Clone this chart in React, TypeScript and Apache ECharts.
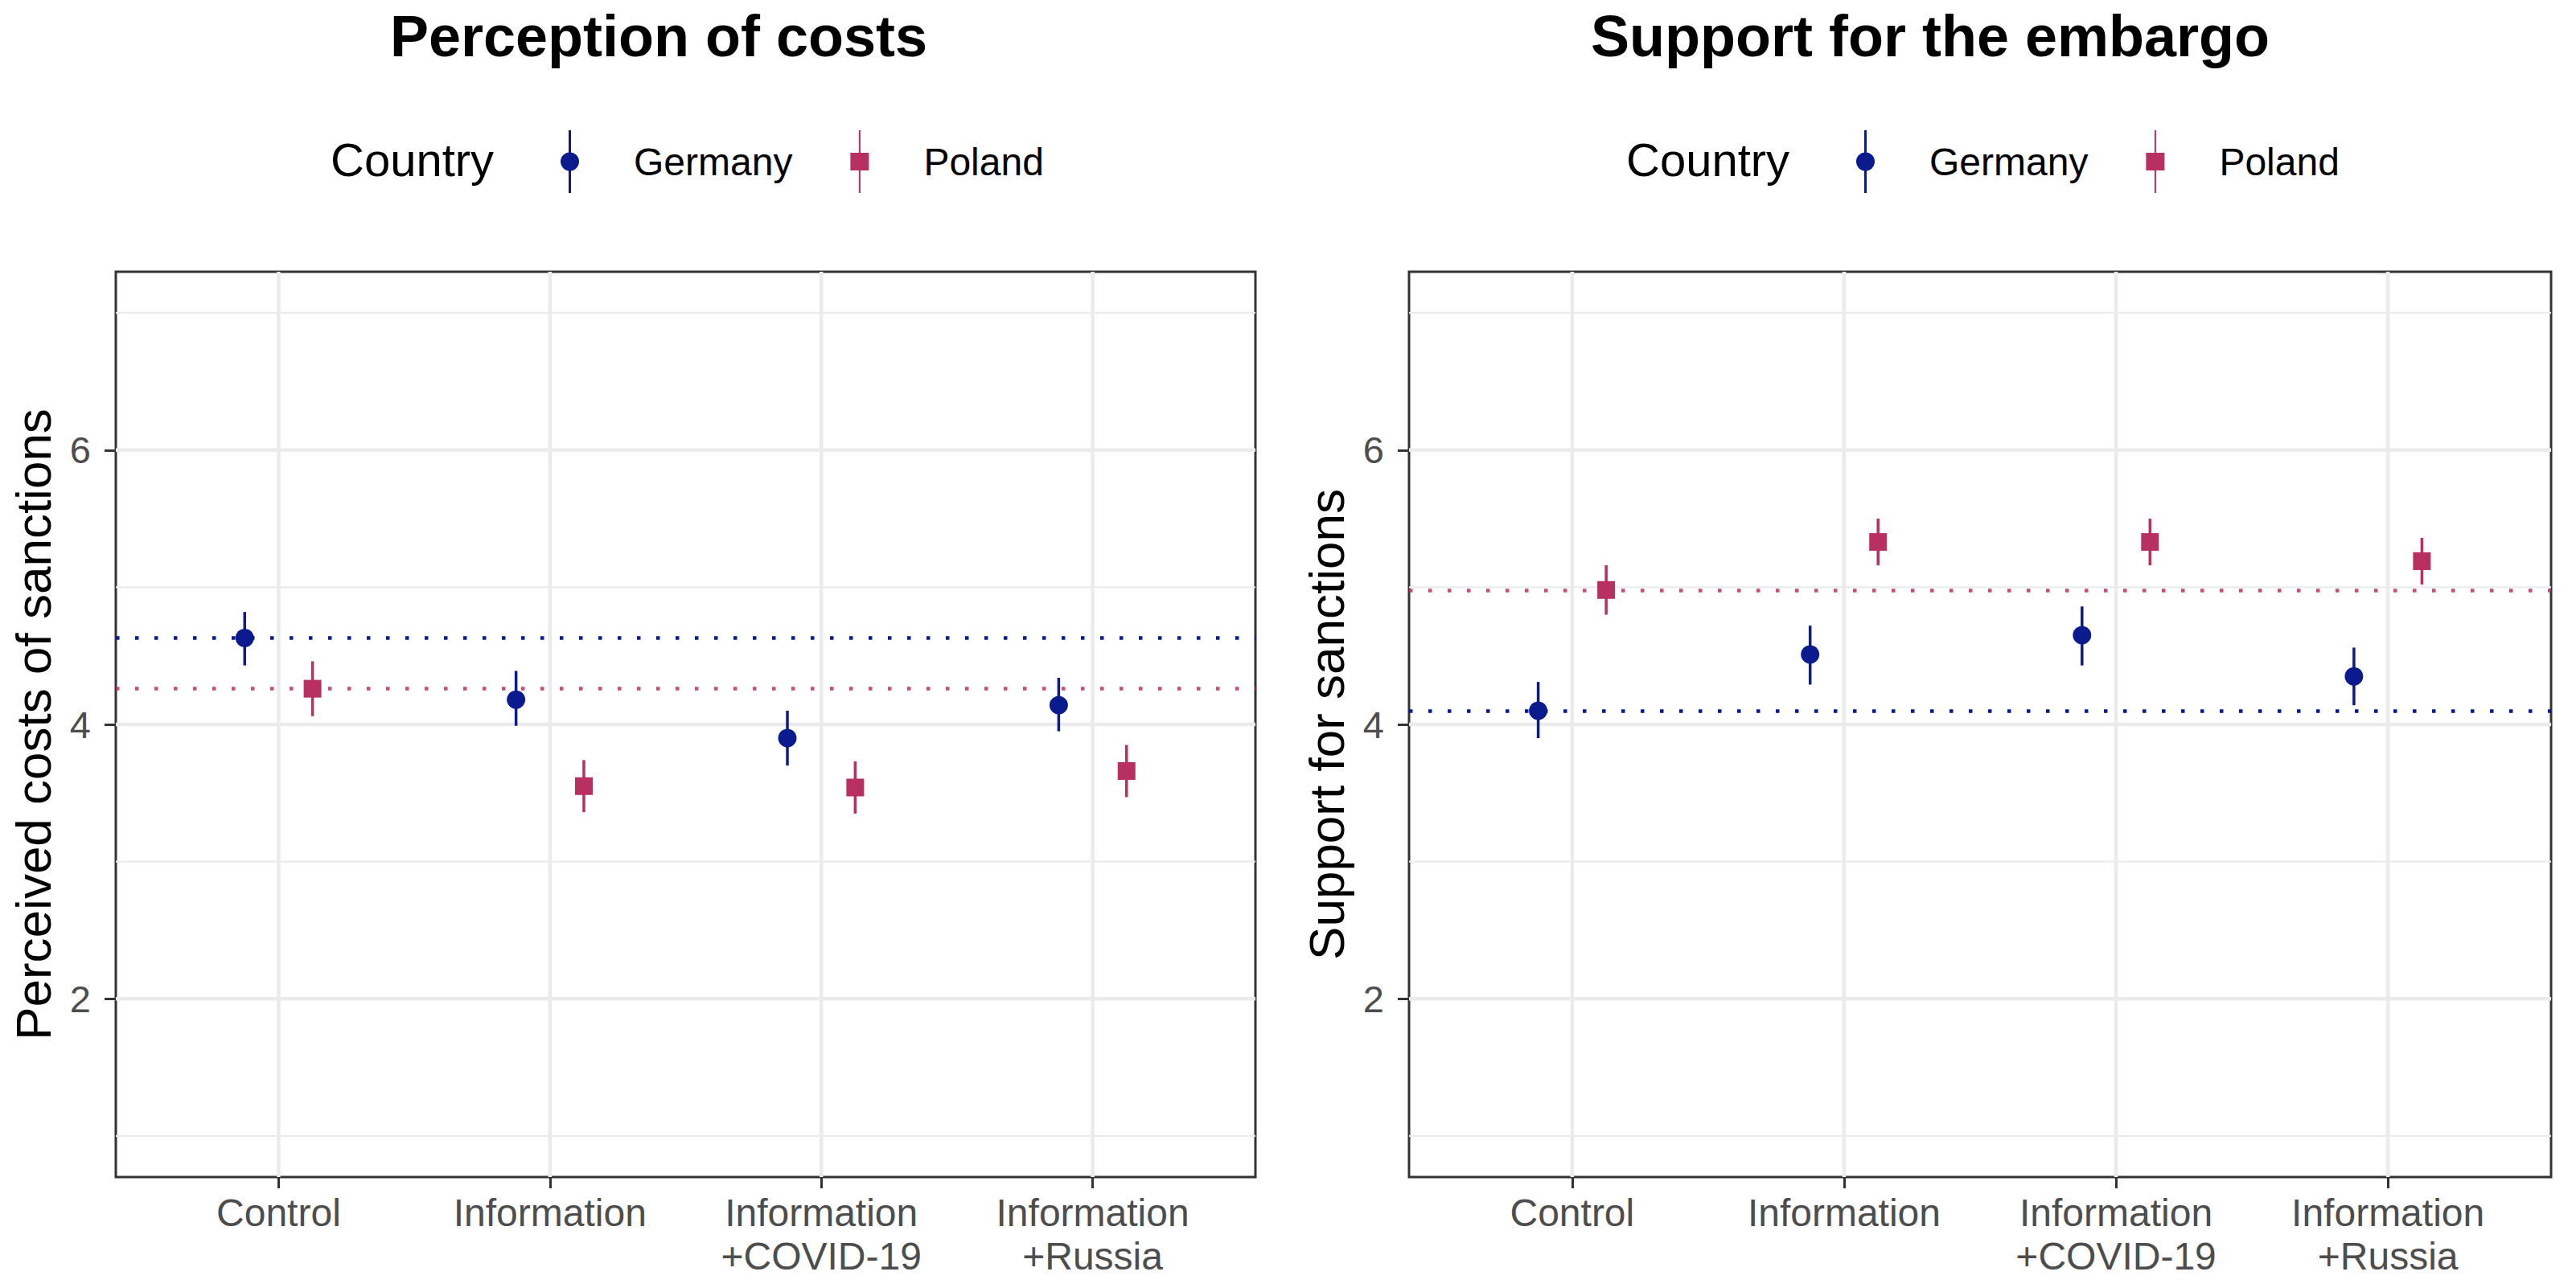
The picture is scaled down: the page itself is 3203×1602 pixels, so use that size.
import React, { useEffect, useRef } from "react";
import * as echarts from "echarts";

// treatment groups (x axis) and y ticks
const categories = ["Control", "Information", "Information\n+COVID-19", "Information\n+Russia"];
const yTicks = [2, 4, 6];
const yMinor = [1, 3, 5, 7];

// perceived costs of sanctions
const costGermany = [4.63, 4.18, 3.9, 4.14];
const costGermanyLow = [4.43, 3.99, 3.7, 3.95];
const costGermanyHigh = [4.82, 4.39, 4.1, 4.34];
const costPoland = [4.26, 3.55, 3.54, 3.66];
const costPolandLow = [4.06, 3.36, 3.35, 3.47];
const costPolandHigh = [4.46, 3.74, 3.73, 3.85];

// support for sanctions
const supportGermany = [4.1, 4.51, 4.65, 4.35];
const supportGermanyLow = [3.9, 4.29, 4.43, 4.14];
const supportGermanyHigh = [4.31, 4.72, 4.86, 4.56];
const supportPoland = [4.98, 5.33, 5.33, 5.19];
const supportPolandLow = [4.8, 5.16, 5.16, 5.02];
const supportPolandHigh = [5.16, 5.5, 5.5, 5.36];

const NAVY = "#0B1A8C";
const CRIMSON = "#B8305F";
const FONT = "'Liberation Sans', Arial, sans-serif";
const DODGE = 0.125;

const germanyIcon =
  "path://M10,0L13,0L13,78L10,78Z M0,39A11.5,11.5,0,1,1,23,39A11.5,11.5,0,1,1,0,39Z";
const polandIcon = "path://M10.5,0L12.5,0L12.5,78L10.5,78Z M0,28L23,28L23,50L0,50Z";

const errorItem = (color: string) => (params: any, api: any) => {
  const x = api.value(0);
  const p1 = api.coord([x, api.value(1)]);
  const p2 = api.coord([x, api.value(2)]);
  return {
    type: "line",
    shape: { x1: p1[0], y1: p1[1], x2: p2[0], y2: p2[1] },
    style: { stroke: color, lineWidth: 3.5 },
  };
};

const hGridItem = (params: any, api: any) => {
  const cs = params.coordSys;
  const y = api.coord([1, api.value(0)])[1];
  return {
    type: "line",
    shape: { x1: cs.x, y1: y, x2: cs.x + cs.width, y2: y },
    style: { stroke: "#EBEBEB", lineWidth: api.value(1) ? 4.5 : 2.2 },
  };
};

const vGridItem = (params: any, api: any) => {
  const cs = params.coordSys;
  const x = api.coord([api.value(0), 4])[0];
  return {
    type: "line",
    shape: { x1: x, y1: cs.y, x2: x, y2: cs.y + cs.height },
    style: { stroke: "#EBEBEB", lineWidth: 4.5 },
  };
};

const buildPanel = (
  idx: number,
  ger: number[], gerLo: number[], gerHi: number[],
  pol: number[], polLo: number[], polHi: number[]
) => {
  const gx = categories.map((_, i) => i + 1 - DODGE);
  const px = categories.map((_, i) => i + 1 + DODGE);
  const ax = { xAxisIndex: idx, yAxisIndex: idx };
  return [
    {
      type: "custom", ...ax, z: 1, silent: true,
      data: yTicks.map((v) => [v, 1]).concat(yMinor.map((v) => [v, 0])),
      encode: { y: 0 },
      renderItem: hGridItem,
    },
    {
      type: "custom", ...ax, z: 1, silent: true,
      data: categories.map((_, i) => [i + 1]),
      encode: { x: 0 },
      renderItem: vGridItem,
    },
    {
      type: "custom", ...ax, z: 3, silent: true,
      data: gx.map((x, i) => [x, gerLo[i], gerHi[i]]),
      encode: { x: 0, y: [1, 2] },
      renderItem: errorItem(NAVY),
      markLine: {
        silent: true, symbol: ["none", "none"], label: { show: false },
        lineStyle: { color: NAVY, width: 4.5, type: [4.5, 19.5] },
        data: [{ yAxis: ger[0] }],
      },
    },
    {
      type: "custom", ...ax, z: 3, silent: true,
      data: px.map((x, i) => [x, polLo[i], polHi[i]]),
      encode: { x: 0, y: [1, 2] },
      renderItem: errorItem(CRIMSON),
      markLine: {
        silent: true, symbol: ["none", "none"], label: { show: false },
        lineStyle: { color: CRIMSON, width: 4.5, type: [4.5, 19.5], opacity: 0.85 },
        data: [{ yAxis: pol[0] }],
      },
    },
    {
      name: "Germany", type: "scatter", ...ax, z: 4,
      symbol: "circle", symbolSize: 23,
      itemStyle: { color: NAVY, opacity: 1 },
      data: gx.map((x, i) => [x, ger[i]]),
    },
    {
      name: "Poland", type: "scatter", ...ax, z: 4,
      symbol: "rect", symbolSize: 22,
      itemStyle: { color: CRIMSON, opacity: 1 },
      data: px.map((x, i) => [x, pol[i]]),
    },
  ];
};

const xAxisFor = (idx: number) => ({
  type: "value", gridIndex: idx, min: 0.4, max: 4.6,
  axisLine: { show: false },
  splitLine: { show: false },
  axisTick: { show: true, customValues: [1, 2, 3, 4], length: 14, lineStyle: { color: "#333333", width: 3 } },
  axisLabel: {
    customValues: [1, 2, 3, 4],
    formatter: (v: number) => categories[Math.round(v) - 1],
    fontSize: 48, lineHeight: 54, color: "#4D4D4D", margin: 17, fontFamily: FONT,
  },
});

const yAxisFor = (idx: number, name: string) => ({
  type: "value", gridIndex: idx, min: 0.7, max: 7.3,
  name, nameLocation: "middle", nameGap: 72,
  nameTextStyle: { fontSize: 62, color: "#000000", fontFamily: FONT },
  axisLine: { show: false },
  splitLine: { show: false },
  axisTick: { show: true, customValues: yTicks, length: 14, lineStyle: { color: "#333333", width: 3 } },
  axisLabel: { customValues: yTicks, fontSize: 47, color: "#4D4D4D", margin: 31, fontFamily: FONT },
});

const legendFor = (left: number) => ({
  left, top: 157, itemWidth: 23, itemHeight: 78, itemGap: 72,
  selectedMode: false,
  data: [
    { name: "Germany", icon: germanyIcon, itemStyle: { opacity: 1 } },
    { name: "Poland", icon: polandIcon, itemStyle: { opacity: 1 } },
  ],
  textStyle: { fontSize: 48, color: "#000000", fontFamily: FONT, padding: [0, 0, 0, 63] },
});

const textEl = (
  x: number, y: number, text: string, fontSize: number,
  bold: boolean, align: string, vAlign: string
) => ({
  type: "text", x, y, silent: true,
  style: {
    text, fontSize, fontFamily: FONT, fontWeight: bold ? "bold" : "normal",
    fill: "#000000", align, verticalAlign: vAlign,
  },
});

const App: React.FC = () => {
  const chartRef = useRef<HTMLDivElement | null>(null);

  useEffect(() => {
    if (chartRef.current) {
      const chart = echarts.init(chartRef.current, null, { renderer: "svg" });

      const option = {
        animation: false,
        backgroundColor: "#ffffff",
        grid: [
          { left: 144, top: 338, width: 1417, height: 1126, show: true, borderColor: "#333333", borderWidth: 3 },
          { left: 1752, top: 338, width: 1420, height: 1126, show: true, borderColor: "#333333", borderWidth: 3 },
        ],
        xAxis: [xAxisFor(0), xAxisFor(1)],
        yAxis: [yAxisFor(0, "Perceived costs of sanctions"), yAxisFor(1, "Support for sanctions")],
        legend: [legendFor(692), legendFor(2303)],
        graphic: [
          textEl(819, 9, "Perception of costs", 72, true, "center", "top"),
          textEl(2400, 9, "Support for the embargo", 72, true, "center", "top"),
          textEl(411, 198, "Country", 58, false, "left", "middle"),
          textEl(2022, 198, "Country", 58, false, "left", "middle"),
        ],
        series: [
          ...buildPanel(0, costGermany, costGermanyLow, costGermanyHigh, costPoland, costPolandLow, costPolandHigh),
          ...buildPanel(1, supportGermany, supportGermanyLow, supportGermanyHigh, supportPoland, supportPolandLow, supportPolandHigh),
        ],
      };

      chart.setOption(option);

      return () => {
        chart.dispose();
      };
    }
  }, []);

  return (
    <div
      ref={chartRef}
      style={{ position: "fixed", left: 0, top: 0, width: "3203px", height: "1602px", background: "#ffffff" }}
    />
  );
};

export default App;
